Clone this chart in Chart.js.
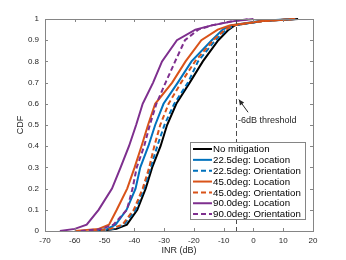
<!DOCTYPE html>
<html>
<head>
<meta charset="utf-8">
<script src="https://cdn.jsdelivr.net/npm/chart.js@4/dist/chart.umd.min.js"></script>
<style>
  html, body { margin: 0; padding: 0; background: #fff; }
  #wrap { width: 346px; height: 260px; }
</style>
</head>
<body>
<div id="wrap"><canvas id="cdfChart"></canvas></div>
<script>
// CDF levels shared by every curve, and the INR (dB) read at each level
const cdfLevels = [0, 0.01, 0.03, 0.1, 0.2, 0.3, 0.4, 0.5, 0.6, 0.7, 0.8, 0.9, 0.95, 0.97, 0.99, 1];

const noMitigation   = [-52, -46, -42.5, -39, -36.2, -34, -31.2, -29, -25.9, -21.4, -17, -11.8, -8.3, -6.3, 3, 15];
const loc22          = [-55, -49, -46.3, -42.6, -39.6, -38, -35.3, -33, -30.2, -25.4, -20.8, -14, -10.3, -7.5, 2, 13];
const orient22       = [-51, -47, -43.5, -39.6, -36.8, -34.5, -32.3, -29.9, -26.6, -22, -18.6, -12.8, -9, -6.5, 3, 14.5];
const loc45          = [-60, -52, -48.5, -45.9, -42.4, -39.9, -37.6, -35.4, -33, -27.3, -22.8, -17.5, -12, -8, 3, 14];
const orient45       = [-54, -48, -44, -40.2, -37.2, -35, -33.3, -31.3, -28.5, -24.3, -19.6, -13.5, -9.5, -6.5, 3, 14];
const loc90          = [-65, -60, -56, -52, -47.5, -44.6, -41.8, -39.4, -37.2, -33.7, -30.7, -25.7, -19.5, -14, -6.5, 0];
const orient90       = [-58, -51, -47, -42.5, -40.6, -39.2, -36.7, -34.8, -32.6, -29.5, -26.3, -23, -18.5, -14, -7, -1];

const seriesLabels = ['No mitigation', '22.5deg: Location', '22.5deg: Orientation', '45.0deg: Location',
                      '45.0deg: Orientation', '90.0deg: Location', '90.0deg: Orientation'];
const seriesValues = [noMitigation, loc22, orient22, loc45, orient45, loc90, orient90];
const seriesColors = ['#000000', '#0072BD', '#0072BD', '#D95319', '#D95319', '#7E2F8E', '#7E2F8E'];
const seriesDashed = [false, false, true, false, true, false, true];

const xTicks = [-70, -60, -50, -40, -30, -20, -10, 0, 10, 20];
const thresholdDb = -6;

const FONT = '"Liberation Sans", Arial, Helvetica, sans-serif';
const DASH = [5, 3];

const datasets = seriesValues.map((vals, i) => ({
    label: seriesLabels[i],
    data: vals.map((x, k) => ({ x: x, y: cdfLevels[k] })),
    borderColor: seriesColors[i],
    borderWidth: 2,
    borderDash: seriesDashed[i] ? DASH : [],
    pointRadius: 0,
    showLine: true,
    fill: false,
    tension: 0,
    clip: false,
    order: seriesValues.length - i
}));

// box, inward ticks, threshold marker and legend, drawn like the original figure
const figureDecor = {
    id: 'figureDecor',
    afterDatasetsDraw(chart) {
        const ctx = chart.ctx;
        const a = chart.chartArea;
        const xs = chart.scales.x, ys = chart.scales.y;

        // threshold line
        const tx = Math.round(xs.getPixelForValue(thresholdDb)) + 0.5;
        ctx.save();
        ctx.strokeStyle = '#4d4d4d';
        ctx.lineWidth = 1;
        ctx.setLineDash([5, 3]);
        ctx.beginPath();
        ctx.moveTo(tx, a.top);
        ctx.lineTo(tx, a.bottom);
        ctx.stroke();
        ctx.restore();

        // annotation arrow + text
        const ax1 = xs.getPixelForValue(-1.8), ay1 = ys.getPixelForValue(0.56);
        const ax2 = xs.getPixelForValue(-4.9), ay2 = ys.getPixelForValue(0.62);
        ctx.save();
        ctx.strokeStyle = '#262626';
        ctx.fillStyle = '#262626';
        ctx.lineWidth = 1;
        ctx.beginPath();
        ctx.moveTo(ax1, ay1);
        ctx.lineTo(ax2, ay2);
        ctx.stroke();
        const ang = Math.atan2(ay2 - ay1, ax2 - ax1);
        ctx.beginPath();
        ctx.moveTo(ax2, ay2);
        ctx.lineTo(ax2 - 6 * Math.cos(ang - 0.45), ay2 - 6 * Math.sin(ang - 0.45));
        ctx.lineTo(ax2 - 6 * Math.cos(ang + 0.45), ay2 - 6 * Math.sin(ang + 0.45));
        ctx.closePath();
        ctx.fill();
        ctx.font = '9px ' + FONT;
        ctx.textAlign = 'left';
        ctx.textBaseline = 'middle';
        ctx.fillText('-6dB threshold', xs.getPixelForValue(-5.2), ys.getPixelForValue(0.523));
        ctx.restore();

        // axes box
        ctx.save();
        ctx.strokeStyle = '#858585';
        ctx.lineWidth = 1;
        ctx.strokeRect(Math.round(a.left) + 0.5, Math.round(a.top) + 0.5,
                       Math.round(a.right - a.left), Math.round(a.bottom - a.top));
        ctx.beginPath();
        xs.ticks.forEach(t => {
            const px = Math.round(xs.getPixelForValue(t.value)) + 0.5;
            ctx.moveTo(px, a.bottom); ctx.lineTo(px, a.bottom - 3);
            ctx.moveTo(px, a.top); ctx.lineTo(px, a.top + 3);
        });
        ys.ticks.forEach(t => {
            const py = Math.round(ys.getPixelForValue(t.value)) + 0.5;
            ctx.moveTo(a.left, py); ctx.lineTo(a.left + 3, py);
            ctx.moveTo(a.right, py); ctx.lineTo(a.right - 3, py);
        });
        ctx.stroke();
        ctx.restore();

        // axis titles
        ctx.save();
        ctx.fillStyle = '#262626';
        ctx.font = '9px ' + FONT;
        ctx.textAlign = 'center';
        ctx.textBaseline = 'middle';
        ctx.fillText('INR (dB)', (a.left + a.right) / 2, 251);
        ctx.translate(21, (a.top + a.bottom) / 2);
        ctx.rotate(-Math.PI / 2);
        ctx.fillText('CDF', 0, 0);
        ctx.restore();

        // legend
        const lx = 190.5, ly = 142.5, lw = 115, lh = 77;
        ctx.save();
        ctx.fillStyle = '#ffffff';
        ctx.fillRect(lx, ly, lw, lh);
        ctx.strokeStyle = '#858585';
        ctx.lineWidth = 1;
        ctx.strokeRect(lx, ly, lw, lh);
        ctx.font = '9.7px ' + FONT;
        ctx.textAlign = 'left';
        ctx.textBaseline = 'middle';
        seriesLabels.forEach((lab, i) => {
            const cy = 149 + i * 10.85;
            ctx.strokeStyle = seriesColors[i];
            ctx.lineWidth = 2;
            ctx.setLineDash(seriesDashed[i] ? DASH : []);
            ctx.beginPath();
            ctx.moveTo(193, cy);
            ctx.lineTo(212, cy);
            ctx.stroke();
            ctx.fillStyle = '#000000';
            ctx.fillText(lab, 213, cy + 0.5);
        });
        ctx.restore();
    }
};

const ctx = document.getElementById('cdfChart').getContext('2d');
const cdfChart = new Chart(ctx, {
    type: 'scatter',
    data: { datasets: datasets },
    options: {
        responsive: true,
        maintainAspectRatio: false,
        animation: false,
        layout: { padding: { left: 0, top: 19, right: 33, bottom: 0 } },
        plugins: {
            legend: { display: false },
            tooltip: { enabled: false }
        },
        scales: {
            x: {
                type: 'linear',
                min: -70,
                max: 20,
                afterBuildTicks: scale => { scale.ticks = xTicks.map(v => ({ value: v })); },
                afterFit: scale => { scale.height = 29; },
                grid: { display: false, drawTicks: false },
                border: { display: false },
                ticks: { color: '#262626', font: { family: FONT, size: 8 }, padding: 5, maxRotation: 0 }
            },
            y: {
                type: 'linear',
                min: 0,
                max: 1,
                afterFit: scale => { scale.width = 45; },
                grid: { display: false, drawTicks: false },
                border: { display: false },
                ticks: {
                    stepSize: 0.1,
                    color: '#262626',
                    font: { family: FONT, size: 8 },
                    padding: 6,
                    callback: v => String(+v.toFixed(1))
                }
            }
        }
    },
    plugins: [figureDecor]
});
</script>
</body>
</html>
